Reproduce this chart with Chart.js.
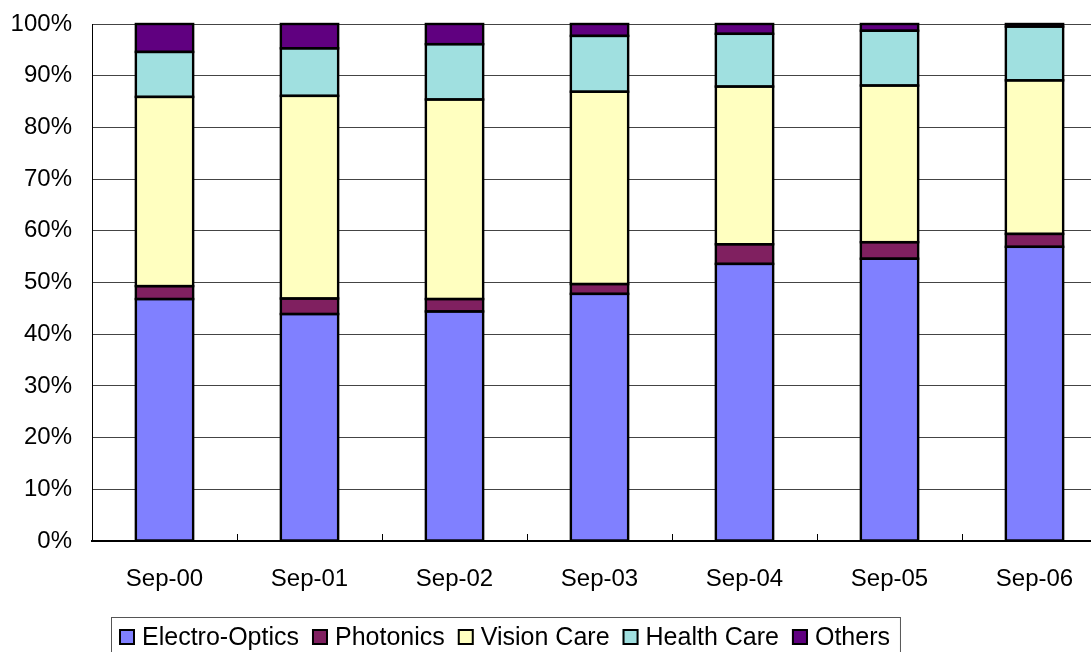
<!DOCTYPE html>
<html>
<head>
<meta charset="utf-8">
<script src="https://cdn.jsdelivr.net/npm/chart.js@4"></script>
<style>
  html, body { margin: 0; padding: 0; background: #fff; overflow: hidden; }
  #wrap { width: 1108px; height: 652px; }
</style>
</head>
<body>
<div id="wrap"><canvas id="c" width="1108" height="652"></canvas></div>
<script>
// Revenue mix by division, share of total (%)
const categories = ['Sep-00', 'Sep-01', 'Sep-02', 'Sep-03', 'Sep-04', 'Sep-05', 'Sep-06'];
const electroOptics = [46.8, 43.9, 44.4, 47.8, 53.6, 54.6, 56.9];
const photonics     = [2.5, 3.0, 2.4, 1.9, 3.8, 3.2, 2.5];
const visionCare    = [36.6, 39.2, 38.6, 37.2, 30.5, 30.3, 29.7];
const healthCare    = [8.7, 9.2, 10.7, 10.8, 10.2, 10.6, 10.4];
const others        = [5.4, 4.7, 3.9, 2.3, 1.9, 1.3, 0.5];
const yTicks = [0, 10, 20, 30, 40, 50, 60, 70, 80, 90, 100];

const FONT = 'Liberation Sans, Arial, sans-serif';

const series = [
  { label: 'Electro-Optics', data: electroOptics, color: '#8080FF' },
  { label: 'Photonics',      data: photonics,     color: '#802060' },
  { label: 'Vision Care',    data: visionCare,    color: '#FFFFC0' },
  { label: 'Health Care',    data: healthCare,    color: '#A0E0E0' },
  { label: 'Others',         data: others,        color: '#600080' }
];

// Black outlines centred on each segment edge, plus short inward
// tick marks on the category axis between the columns
const segmentOutlines = {
  id: 'segmentOutlines',
  afterDatasetsDraw(chart) {
    const ctx = chart.ctx, area = chart.chartArea, x = chart.scales.x;
    ctx.save();
    ctx.strokeStyle = '#000';
    ctx.lineWidth = 2.4;
    chart.data.datasets.forEach((ds, i) => {
      chart.getDatasetMeta(i).data.forEach((bar) => {
        const p = bar.getProps(['x', 'y', 'base', 'width'], true);
        const left = p.x - p.width / 2;
        const top = Math.min(p.y, p.base);
        const h = Math.abs(p.base - p.y);
        ctx.strokeRect(left, top, p.width, h);
      });
    });
    ctx.lineWidth = 1;
    for (let i = 1; i < categories.length; i++) {
      const px = Math.round(x.getPixelForValue(i - 0.5)) + 0.5;
      ctx.beginPath();
      ctx.moveTo(px, area.bottom);
      ctx.lineTo(px, area.bottom - 7);
      ctx.stroke();
    }
    ctx.restore();
  }
};

// Boxed legend row under the axis labels
const boxedLegend = {
  id: 'boxedLegend',
  afterDraw(chart) {
    const ctx = chart.ctx;
    ctx.save();
    ctx.font = '25px ' + FONT;
    ctx.textBaseline = 'middle';
    const y = 637, sq = 16;
    let x = 119;
    const left = 111;
    chart.data.datasets.forEach((ds) => {
      ctx.fillStyle = ds.backgroundColor;
      ctx.fillRect(x, y - sq / 2, sq, sq);
      ctx.strokeStyle = '#000';
      ctx.lineWidth = 2;
      ctx.strokeRect(x + 1, y - sq / 2 + 1, sq - 2, sq - 2);
      x += sq + 7;
      ctx.fillStyle = '#000';
      ctx.fillText(ds.label, x, y + 1);
      x += ctx.measureText(ds.label).width + 13;
    });
    const right = x - 3;
    ctx.strokeStyle = '#555';
    ctx.lineWidth = 1;
    ctx.strokeRect(left + 0.5, 617.5, right - left, 60);
    ctx.restore();
  }
};

new Chart(document.getElementById('c'), {
  type: 'bar',
  data: {
    labels: categories,
    datasets: series.map(s => ({
      label: s.label,
      data: s.data,
      backgroundColor: s.color,
      borderWidth: 0,
      inflateAmount: 0,
      categoryPercentage: 1,
      barPercentage: 0.395
    }))
  },
  options: {
    responsive: false,
    animation: false,
    devicePixelRatio: 1,
    layout: { padding: { top: 24, right: 1, left: 0, bottom: 0 } },
    plugins: { legend: { display: false }, tooltip: { enabled: false } },
    scales: {
      x: {
        stacked: true,
        grid: { display: false, drawTicks: false },
        border: { display: true, color: '#000', width: 2 },
        ticks: { color: '#000', font: { family: FONT, size: 24 }, padding: 24, maxRotation: 0 },
        afterFit(s) { s.height = 111; s.paddingLeft = 0; s.paddingRight = 0; }
      },
      y: {
        stacked: true,
        min: 0,
        max: 100,
        afterBuildTicks(s) { s.ticks = yTicks.map(v => ({ value: v })); },
        grid: { color: '#444', lineWidth: 1, drawTicks: false },
        border: { display: true, color: '#000', width: 1 },
        ticks: {
          color: '#000',
          font: { family: FONT, size: 24 },
          padding: 20,
          callback: v => v + '%'
        },
        afterFit(s) { s.width = 92; s.paddingTop = 0; s.paddingBottom = 0; }
      }
    }
  },
  plugins: [segmentOutlines, boxedLegend]
});
</script>
</body>
</html>
